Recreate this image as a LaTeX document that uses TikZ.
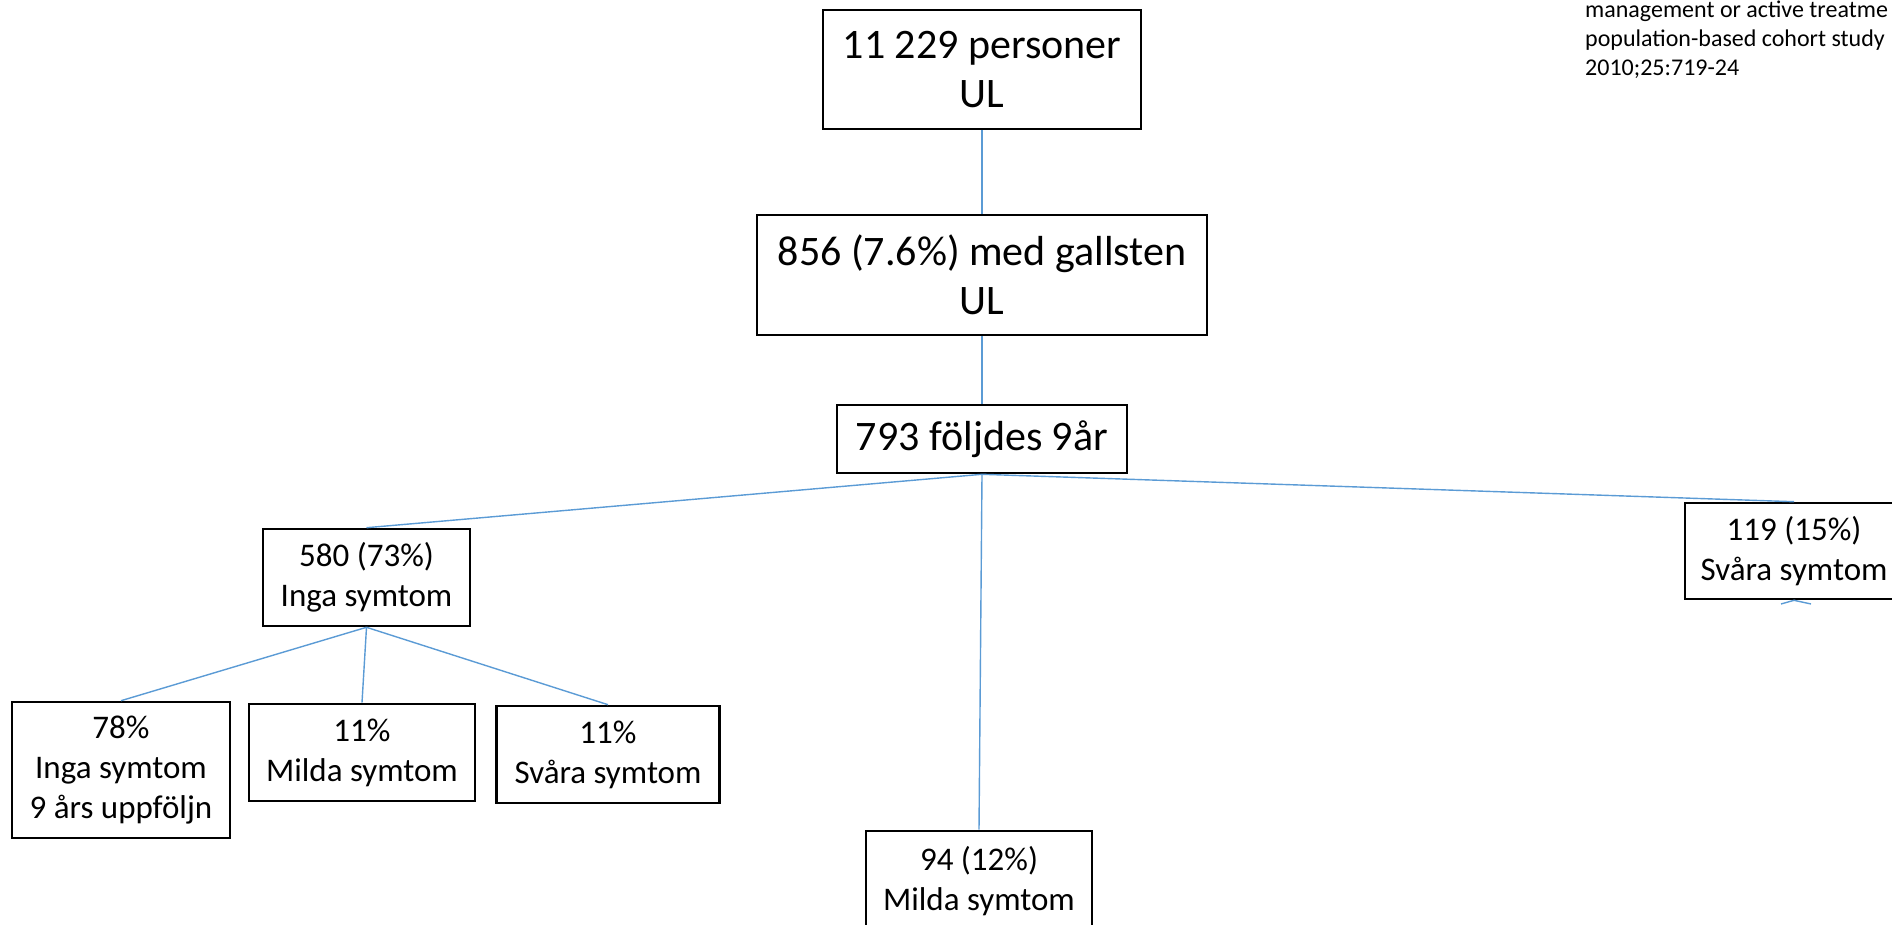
\documentclass[tikz,border=0pt]{standalone}
\usepackage{fontspec}
\setmainfont{Carlito}
\definecolor{linkblue}{RGB}{91,155,213}
\tikzset{
  box/.style={draw=black, line width=2.6pt, rectangle, inner sep=0pt, align=center, fill=white},
  bigtxt/.style={font=\fontsize{42}{48.5}\selectfont},
  midtxt/.style={font=\fontsize{33}{40}\selectfont},
  reftxt/.style={font=\fontsize{24}{29}\selectfont, anchor=base west, inner sep=0pt},
  link/.style={draw=linkblue, line width=1.4pt}
}
\begin{document}
\begin{tikzpicture}[x=1pt,y=-1pt]
\clip (0,0) rectangle (1892,925);
\path[use as bounding box] (0,0) rectangle (1892,925);

% boxes
\node[box, bigtxt, minimum width=318pt, minimum height=119pt] (b1) at (982,69.5) {11 229 personer\\UL};
\node[box, bigtxt, minimum width=450pt, minimum height=120pt] (b2) at (982,275) {856 (7.6\%) med gallsten\\UL};
\node[box, bigtxt, minimum width=290pt, minimum height=68pt] (b3) at (982,439) {793 följdes 9år};
\node[box, midtxt, minimum width=207pt, minimum height=97pt] (b580) at (366.5,577.5) {580 (73\%)\\Inga symtom};
\node[box, midtxt, minimum width=218pt, minimum height=96pt] (b119) at (1794,551) {119 (15\%)\\Svåra symtom};
\node[box, midtxt, minimum width=226pt, minimum height=100pt] (b94) at (979,881) {94 (12\%)\\Milda symtom};

\node[box, midtxt, minimum width=218pt, minimum height=136pt] (b78) at (121,770) {78\%\\Inga symtom\\9 års uppföljn};
\node[box, midtxt, minimum width=226pt, minimum height=97pt] (bmil) at (362,752.5) {11\%\\Milda symtom};
\node[box, midtxt, minimum width=223pt, minimum height=97pt] (bsv) at (608,754.5) {11\%\\Svåra symtom};

% links
\draw[link] (b1.south) -- (b2.north);
\draw[link] (b2.south) -- (b3.north);
\draw[link] (b3.south) -- (b580.north);
\draw[link] (b3.south) -- (b94.north);
\draw[link] (b3.south) -- (b119.north);
\draw[link] (b580.south) -- (b78.north);
\draw[link] (b580.south) -- (bmil.north);
\draw[link] (b580.south) -- (bsv.north);
\coordinate (s1) at (1781,604);
\coordinate (s2) at (1811,604);
\draw[link] (b119.south) -- (s1);
\draw[link] (b119.south) -- (s2);

% reference text (top right)
\node[reftxt] (ref1) at (1585,18) {management or active treatme};
\node[reftxt] (ref2) at (1585,47) {population-based cohort study};
\node[reftxt] (ref3) at (1585,76) {2010;25:719-24};
\end{tikzpicture}
\end{document}
